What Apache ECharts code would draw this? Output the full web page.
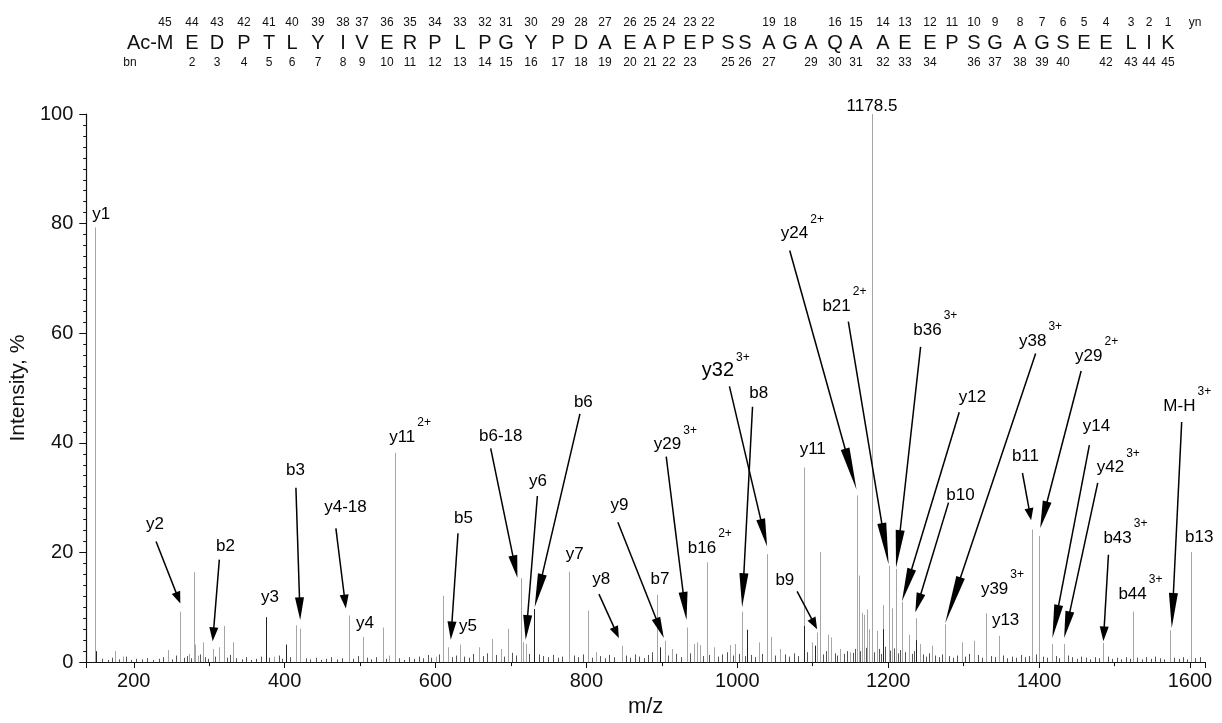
<!DOCTYPE html>
<html>
<head>
<meta charset="utf-8">
<script src="https://cdn.jsdelivr.net/npm/echarts@6/dist/echarts.min.js"></script>
<style>
  html, body { margin: 0; background: #fff; }
  #main { width: 1222px; height: 723px; }
</style>
</head>
<body>
<div id="main"></div>
<script>
const FONT = '"Liberation Sans", Arial, sans-serif';

// peptide sequence and fragment numbering shown above the spectrum
const residues = ['M','E','D','P','T','L','Y','I','V','E','R','P','L','P','G','Y','P','D','A','E','A',
  'P','E','P','S','S','A','G','A','Q','A','A','E','E','P','S','G','A','G','S','E','E','L','I','K'];
const yNumbers = [45,44,43,42,41,40,39,38,37,36,35,34,33,32,31,30,29,28,27,26,25,24,23,22,
  null,null,19,18,null,16,15,14,13,12,11,10,9,8,7,6,5,4,3,2,1];
const bNumbers = [null,2,3,4,5,6,7,8,9,10,11,12,13,14,15,16,17,18,19,20,21,22,23,null,25,26,27,null,
  29,30,31,32,33,34,null,36,37,38,39,40,null,42,43,44,45];
// header layout (pixel x of each residue)
const seqX = [165,192,217,244,269,292,318,343,362,387,410,435,460,485,506,531,558,581,605,630,650,
  669,690,708,728,745,769,790,811,835,856,883,905,930,952,974,995,1020,1042,1063,1084,1106,1131,1149,1168];

// light grey peaks
const greyMz = [148.5,175.6,185.4,245.8,261.3,273.6,279.5,281.2,285.5,291.4,304.6,313.4,319.2,331.1,386.2,
  414.9,420.2,485.5,503.2,529.7,538.5,546,600.3,610.5,616.6,632.5,657.6,675.4,686.4,696.6,712.9,716.4,719.5,
  776.8,802,812.2,847.5,893.9,904,913.7,933.6,942.4,946.9,950.3,960.1,968.8,990.9,997.6,1006.4,1028.4,1039.5,
  1044.8,1057.1,1088.9,1099.1,1105.7,1109.2,1120.3,1124.7,1136.6,1149.8,1158.7,1160.8,1165.3,1168,1172,1175,
  1178.5,1185.2,1193.2,1200.6,1205,1210.4,1218.3,1227,1237.3,1242.6,1258,1275.6,1297.8,1313.2,1330,1346.3,
  1391.3,1400.2,1417.7,1433.3,1485.3,1524.2,1573.6,1601.4];
const greyInt = [79.3,2.0,1.0,2.2,9.2,1.5,16.4,3.2,1.2,3.6,2.4,2.7,6.6,3.6,1.0,
  6.7,6.1,8.5,4.6,6.3,1.2,38.2,1.0,12.1,2.7,3.2,2.7,4.2,2.4,6.1,15.3,3.6,3.3,
  16.5,9.4,1.8,3.0,12.3,3.9,2.4,6.3,3.3,3.6,3.1,18.2,2.7,3.1,3.3,9.2,3.6,19.7,
  4.6,2.4,35.5,3.6,5.4,20.1,5.0,4.5,2.4,1.8,30.4,15.8,9.0,8.6,9.6,6.0,
  100,5.7,10.4,17.6,9.8,17.0,11.0,5.0,8.0,3.3,3.0,6.9,3.6,3.9,8.9,4.8,
  24.2,23.0,3.3,3.3,3.5,9.2,5.8,20.1];

// dark peaks
const darkMz = [150.1,375.2,401.7,730.5,897.3,1013.1,1088.9,1103,1193.2,1237.3];
const darkInt = [2.0,8.2,3.2,9.7,2.7,5.9,6.6,3.0,6.0,4.0];

// baseline chemical noise
const noiseMz = [158,166,171,181,190,196,203,211,218,226,233,239,251,256,266,270,276,288,295,299,308,323,327,
  336,343,349,356,362,368,379,392,396,407,428,434,441,448,455,461,470,476,491,497,509,515,521,534,552,558,565,
  571,578,584,590,594,605,622,627,638,644,650,663,668,680,691,702,707,724,737,742,749,756,762,768,783,789,795,
  807,818,824,830,836,853,858,864,870,876,882,887,908,919,925,937,955,963,974,980,986,994,1002,1010,1018,1023,
  1033,1050,1063,1069,1075,1081,1093,1113,1117,1129,1132,1141,1145,1153,1156,1163,1170,1181,1188,1190,1196,
  1203,1208,1213,1216,1222,1231,1234,1246,1250,1254,1262,1268,1271,1280,1286,1291,1302,1307,1319,1325,1336,
  1341,1352,1358,1364,1370,1376,1382,1387,1396,1405,1411,1422,1427,1438,1444,1450,1456,1462,1468,1474,1480,
  1491,1497,1503,1509,1515,1520,1530,1536,1542,1548,1554,1560,1566,1579,1585,1591,1596,1607,1613];
const noiseInt = [0.6,0.4,0.8,0.5,1.0,0.4,0.6,0.5,0.7,0.4,0.6,0.9,0.5,1.2,0.8,1.1,0.7,1.4,0.9,0.6,1.0,0.8,1.3,
  0.7,0.5,0.9,0.4,0.6,1.0,0.8,1.2,0.6,0.9,0.7,0.5,0.8,0.4,0.6,0.9,0.5,0.7,0.6,1.1,0.8,0.5,0.9,0.6,0.7,0.4,0.9,
  0.6,1.0,0.7,1.3,0.8,1.4,0.9,1.2,1.0,0.8,1.5,1.1,1.6,1.3,1.0,1.7,1.2,1.5,1.4,1.1,0.9,1.3,0.8,1.0,1.2,0.9,1.4,
  0.8,1.1,0.7,1.3,0.9,1.2,0.8,1.4,1.0,0.7,1.3,1.8,1.2,1.5,0.9,1.6,1.1,1.3,1.0,1.4,1.8,1.2,1.5,1.1,1.3,0.9,
  1.5,1.2,1.4,1.0,1.6,1.1,1.8,1.4,2.0,1.6,1.2,1.5,2.0,1.7,2.4,2.0,2.6,1.8,2.4,1.5,2.8,
  2.1,2.5,1.6,2.2,1.8,1.5,2.0,1.4,1.0,1.6,1.2,0.9,1.4,1.1,0.8,1.2,1.0,1.5,1.3,0.8,1.1,
  0.9,1.2,0.7,1.0,0.8,1.3,0.9,1.1,1.4,1.0,0.8,1.1,0.7,1.2,0.9,0.6,1.0,0.8,0.5,0.9,0.7,
  1.0,0.6,0.8,0.5,0.9,0.6,0.8,0.5,0.9,0.6,1.0,0.7,0.5,0.8,0.6,0.9,0.5,0.7,0.9];

// fragment labels: text, charge superscript, anchor (left / bottom of text) in m/z and %
const labelText = ['y1','1178.5','y24','b21','b36','y38','y29','y32','b8','y12','M-H','y14','b11','y42','b10',
  'b43','b13','y39','b44','y13','y29','y11','b16','b7','b9','y9','y8','y11','b6-18','b6','y6','b5','y5','y4',
  'y7','y4-18','y2','b2','b3','y3'];
const labelSup = ['','','2+','2+','3+','3+','2+','3+','','','3+','','','3+','',
  '3+','','3+','3+','','3+','','2+','','','','','2+','','','','','','',
  '','','','','',''];
const labelMz = [144.8,1144.9,1057.7,1112.8,1233.3,1373.4,1447.8,952.9,1015.8,1293.7,1564.8,1458,1364,1476.5,1277,
  1485.3,1593.5,1322.9,1505.2,1337.5,889.4,1082.7,934.4,885,1050.5,832,807.8,538.5,657.6,783.4,723.9,624.5,631.2,494.4,
  772.5,452.4,216.3,309,401.7,368.6];
const labelInt = [80.1,99.8,76.6,63.4,59,57,54.2,51.3,47.4,46.7,45.2,41.5,36,33.9,28.9,
  21.1,21.2,11.8,10.9,6.1,38.1,37.2,19.3,13.6,13.4,27,13.6,39.4,39.6,45.8,31.5,24.6,4.9,5.6,
  18.1,26.7,23.5,19.6,33.5,10.2];

// annotation arrows: from [m/z, %] to [m/z, %]
const arrowFrom = [[229.5,22],[313.4,18.7],[414.9,31.8],[467.9,24.4],[629.8,23.5],[673.1,39],[735,30.3],
  [791.4,45.3],[816.6,12.4],[841.7,25.5],[905.8,37.5],[989.6,50.3],[1020.2,46.6],[1079.3,12.9],[1069.5,75.1],
  [1147.2,62.1],[1243,57.5],[1294.2,45.6],[1280,29.1],[1395.5,56.3],[1378,34.5],[1455.8,53.1],[1466.7,39.6],
  [1477.8,32.7],[1492,19.6],[1589.1,43.8]];
const arrowTo = [[261.7,10.7],[304.6,3.8],[420.6,7.7],[481.1,9.8],[620.2,4.1],[708.5,15.4],[719.5,4.1],
  [731.4,10],[843,4.4],[902.6,4.4],[932.7,7.7],[1039.5,21.1],[1006.4,10],[1105.8,6],[1158,31.5],
  [1200.6,17.8],[1210.4,17.2],[1218.3,11.1],[1236,9.1],[1275.6,7.1],[1389.5,25.9],[1401.5,24.4],[1417.7,4.4],
  [1433.3,4.4],[1485.3,3.8],[1575.9,6.2]];

const chart = echarts.init(document.getElementById('main'));

const measureCtx = document.createElement('canvas').getContext('2d');
function textWidth(str, size) {
  measureCtx.font = size + 'px ' + FONT;
  return measureCtx.measureText(str).width;
}

function stickSeries(name, mz, ints, color) {
  return {
    name: name,
    type: 'custom',
    data: mz.map((m, i) => [m, ints[i]]),
    encode: { x: 0, y: 1 },
    renderItem(params, api) {
      const top = api.coord([api.value(0), api.value(1)]);
      const base = api.coord([api.value(0), 0]);
      const x = Math.round(top[0]) + 0.5;
      return {
        type: 'line',
        shape: { x1: x, y1: top[1], x2: x, y2: base[1] },
        style: { stroke: color, lineWidth: 1 }
      };
    }
  };
}

// header text
const header = [];
residues.forEach((r, i) => {
  header.push({ type: 'text', x: seqX[i], y: 43, style: { text: r, font: '20px ' + FONT, fill: '#111', align: 'center', verticalAlign: 'middle' } });
  if (yNumbers[i] !== null) {
    header.push({ type: 'text', x: seqX[i], y: 23, style: { text: String(yNumbers[i]), font: '12px ' + FONT, fill: '#111', align: 'center', verticalAlign: 'middle' } });
  }
  if (bNumbers[i] !== null) {
    header.push({ type: 'text', x: seqX[i], y: 63, style: { text: String(bNumbers[i]), font: '12px ' + FONT, fill: '#111', align: 'center', verticalAlign: 'middle' } });
  }
});
header.push({ type: 'text', x: 157, y: 43, style: { text: 'Ac-', font: '20px ' + FONT, fill: '#111', align: 'right', verticalAlign: 'middle' } });
header.push({ type: 'text', x: 130, y: 63, style: { text: 'bn', font: '12px ' + FONT, fill: '#111', align: 'center', verticalAlign: 'middle' } });
header.push({ type: 'text', x: 1195, y: 23, style: { text: 'yn', font: '12px ' + FONT, fill: '#111', align: 'center', verticalAlign: 'middle' } });

const option = {
  backgroundColor: '#fff',
  animation: false,
  textStyle: { fontFamily: FONT },
  graphic: header,
  grid: { left: 85, right: 17, top: 114, bottom: 50 },
  xAxis: {
    type: 'value',
    min: 137,
    max: 1620,
    splitNumber: 7,
    name: 'm/z',
    nameLocation: 'middle',
    nameGap: 20,
    nameTextStyle: { fontSize: 22, color: '#111', fontFamily: FONT },
    axisLine: { lineStyle: { color: '#111', width: 1.2 } },
    axisTick: { length: 6, lineStyle: { color: '#111' } },
    minorTick: { show: true, splitNumber: 2, length: 4, lineStyle: { color: '#111' } },
    axisLabel: {
      fontSize: 20, color: '#111', margin: 9, showMinLabel: false, showMaxLabel: false, fontFamily: FONT,
      formatter: v => String(v)
    },
    splitLine: { show: false }
  },
  yAxis: {
    type: 'value',
    min: 0,
    max: 100,
    interval: 20,
    name: 'Intensity, %',
    nameLocation: 'middle',
    nameGap: 50,
    nameTextStyle: { fontSize: 21, color: '#111', fontFamily: FONT },
    axisLine: { show: true, lineStyle: { color: '#111', width: 1.2 } },
    axisTick: { show: true, length: 7, lineStyle: { color: '#111' } },
    minorTick: { show: true, splitNumber: 10, length: 3, lineStyle: { color: '#111' } },
    axisLabel: { fontSize: 20, color: '#111', margin: 13, fontFamily: FONT },
    splitLine: { show: false }
  },
  series: [
    stickSeries('noise', noiseMz, noiseInt, '#555'),
    stickSeries('grey', greyMz, greyInt, '#a6a6a6'),
    stickSeries('dark', darkMz, darkInt, '#222'),
    {
      name: 'arrows',
      type: 'custom',
      clip: false,
      data: arrowFrom.map((f, i) => [f[0], f[1], arrowTo[i][0], arrowTo[i][1]]),
      encode: { x: [0, 2], y: [1, 3] },
      renderItem(params, api) {
        const s = api.coord([api.value(0), api.value(1)]);
        const e = api.coord([api.value(2), api.value(3)]);
        const dx = e[0] - s[0], dy = e[1] - s[1];
        const len = Math.hypot(dx, dy);
        const ux = dx / len, uy = dy / len;
        const hl = Math.max(12, len * 0.17), hw = 4.5;
        const bx = e[0] - ux * hl, by = e[1] - uy * hl;
        return {
          type: 'group',
          children: [
            { type: 'line', shape: { x1: s[0], y1: s[1], x2: bx + ux * 2, y2: by + uy * 2 }, style: { stroke: '#000', lineWidth: 1.5 } },
            { type: 'polygon', shape: { points: [[e[0], e[1]], [bx - uy * hw, by + ux * hw], [bx + uy * hw, by - ux * hw]] }, style: { fill: '#000' } }
          ]
        };
      }
    },
    {
      name: 'labels',
      type: 'custom',
      clip: false,
      data: labelMz.map((m, i) => [m, labelInt[i]]),
      encode: { x: 0, y: 1 },
      renderItem(params, api) {
        const p = api.coord([api.value(0), api.value(1)]);
        const i = params.dataIndex;
        const size = labelText[i] === 'y32' ? 20 : 17;
        const children = [{
          type: 'text', x: p[0], y: p[1],
          style: { text: labelText[i], font: size + 'px ' + FONT, fill: '#000', align: 'left', verticalAlign: 'bottom' }
        }];
        if (labelSup[i]) {
          children.push({
            type: 'text', x: p[0] + textWidth(labelText[i], size) + 2, y: p[1] - 17,
            style: { text: labelSup[i], font: '12px ' + FONT, fill: '#000', align: 'left', verticalAlign: 'bottom' }
          });
        }
        return { type: 'group', children: children };
      }
    }
  ]
};

chart.setOption(option);
</script>
</body>
</html>
